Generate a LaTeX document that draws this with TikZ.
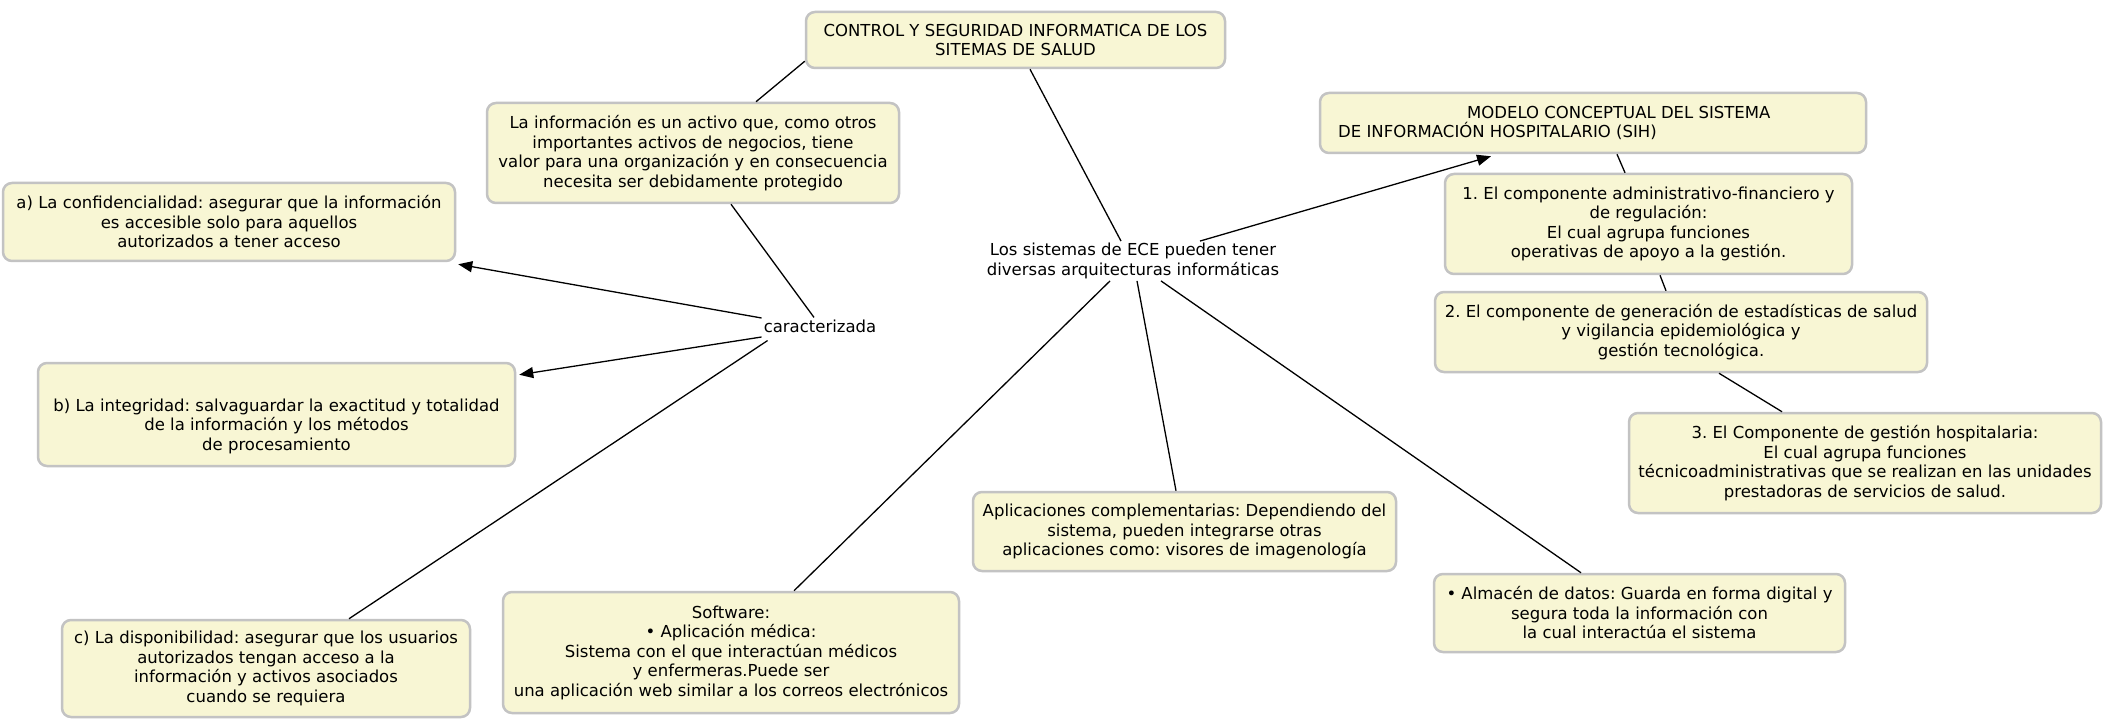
\documentclass[tikz,border=0pt]{standalone}
\usepackage{fontspec}
\setmainfont{DejaVu Sans}
\usetikzlibrary{arrows.meta}
\definecolor{boxfill}{RGB}{248,246,212}
\definecolor{boxline}{RGB}{195,195,195}
\newcommand\fs{\fontsize{16.5}{19.5}\selectfont}
\tikzset{
  box/.style={draw=boxline, fill=boxfill, line width=2.5pt, rounded corners=9pt, inner sep=0pt, align=center, font=\fs},
  txt/.style={inner sep=2pt, align=center, font=\fs},
  conn/.style={line width=1.3pt, draw=black},
  arr/.style={conn, -{Triangle[length=14pt,width=11pt]}}
}
\frenchspacing
\begin{document}
\begin{tikzpicture}[x=1pt,y=-1pt]
\fill[white] (0,0) rectangle (2103,719);
\useasboundingbox (0,0) rectangle (2103,719);

\node[box, minimum width=419pt, minimum height=56pt] (top) at (1015.5,40) {CONTROL Y SEGURIDAD INFORMATICA DE LOS\\SITEMAS DE SALUD};
\node[box, minimum width=412pt, minimum height=100pt] (info) at (693,153) {La información es un activo que, como otros\\importantes activos de negocios, tiene\\valor para una organización y en consecuencia\\necesita ser debidamente protegido};
\node[box, minimum width=452pt, minimum height=78pt] (a) at (229,222) {a) La confidencialidad: asegurar que la información\\es accesible solo para aquellos\\autorizados a tener acceso};
\node[box, minimum width=477pt, minimum height=103pt] (b) at (276.5,414.5) {};
\node[txt] (bt) at (276.5,426) {b) La integridad: salvaguardar la exactitud y totalidad\\de la información y los métodos\\de procesamiento};
\node[box, minimum width=408pt, minimum height=97pt] (c) at (266,668.5) {c) La disponibilidad: asegurar que los usuarios\\autorizados tengan acceso a la\\información y activos asociados\\cuando se requiera};
\node[box, minimum width=456pt, minimum height=121pt] (sw) at (731,652.5) {Software:\\• Aplicación médica:\\Sistema con el que interactúan médicos\\y enfermeras.Puede ser\\una aplicación web similar a los correos electrónicos};
\node[box, minimum width=423pt, minimum height=79pt] (apl) at (1184.5,531.5) {Aplicaciones complementarias: Dependiendo del\\sistema, pueden integrarse otras\\aplicaciones como: visores de imagenología};
\node[box, minimum width=411pt, minimum height=78pt] (alm) at (1639.5,613) {• Almacén de datos: Guarda en forma digital y\\segura toda la información con\\la cual interactúa el sistema};
\node[box, minimum width=546pt, minimum height=60pt] (mod) at (1593,123) {};
\node[txt, align=left, anchor=west] (modt) at (1336,123) {\hspace*{129pt}MODELO CONCEPTUAL DEL SISTEMA\\DE INFORMACIÓN HOSPITALARIO (SIH)};
\node[box, minimum width=407pt, minimum height=100pt] (b1) at (1648.5,224) {1. El componente administrativo-financiero y\\de regulación:\\El cual agrupa funciones\\operativas de apoyo a la gestión.};
\node[box, minimum width=492pt, minimum height=80pt] (b2) at (1681,332) {2. El componente de generación de estadísticas de salud\\y vigilancia epidemiológica y\\gestión tecnológica.};
\node[box, minimum width=472pt, minimum height=100pt] (b3) at (1865,463) {3. El Componente de gestión hospitalaria:\\El cual agrupa funciones\\técnicoadministrativas que se realizan en las unidades\\prestadoras de servicios de salud.};

\node[txt] (ece) at (1133,261) {Los sistemas de ECE pueden tener\\diversas arquitecturas informáticas};
\node[txt] (car) at (820,326) {caracterizada};

\draw[conn] ([yshift=8pt]top.south west) -- ([xshift=63pt]info.north);
\draw[conn] ([xshift=14.5pt]top.south) -- ([xshift=-12pt]ece.north);
\draw[conn] ([xshift=38pt]info.south) -- ([xshift=-6pt]car.north);
\draw[arr] ([yshift=8pt]car.west) -- ([xshift=2pt,yshift=-2pt]a.south east);
\draw[arr] ([yshift=-11pt]car.west) -- ([xshift=3pt,yshift=-13pt]b.north east);
\draw[conn] ([xshift=6pt,yshift=-6pt]car.south west) -- ([xshift=83pt]c.north);
\draw[arr] ([xshift=67pt]ece.north) -- ([xshift=-102pt,yshift=-2pt]mod.south);
\draw[conn] ([xshift=24pt]mod.south) -- ([xshift=-23.5pt]b1.north);
\draw[conn] ([xshift=11.5pt]b1.south) -- ([xshift=-15pt]b2.north);
\draw[conn] ([xshift=38pt]b2.south) -- ([xshift=-83pt]b3.north);
\draw[conn] ([xshift=-23pt]ece.south) -- ([xshift=63pt]sw.north);
\draw[conn] ([xshift=4pt]ece.south) -- ([xshift=-8.5pt]apl.north);
\draw[conn] ([xshift=28pt]ece.south) -- ([xshift=-58.5pt]alm.north);
\end{tikzpicture}
\end{document}
